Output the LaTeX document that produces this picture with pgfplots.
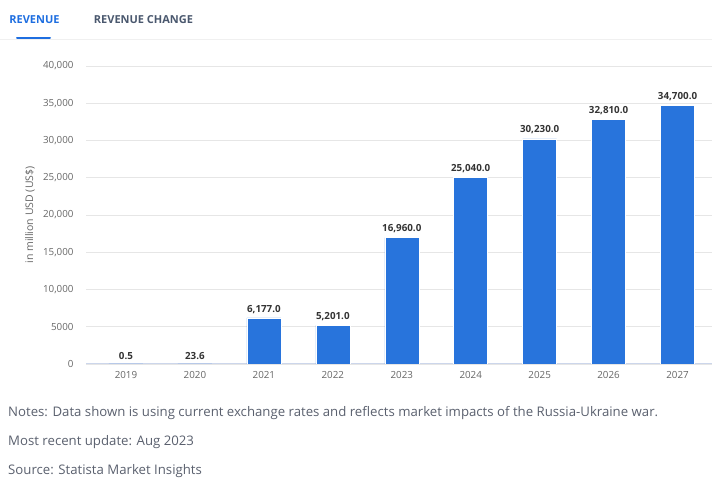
\documentclass[border=0pt]{standalone}
\usepackage{pgfplots}
\pgfplotsset{compat=1.18}
\usepackage{fontspec}
\setmainfont{Open Sans}
\definecolor{barblue}{RGB}{40,116,220}
\definecolor{tabblue}{RGB}{30,110,224}
\definecolor{tabgray}{RGB}{74,88,110}
\definecolor{txtgray}{RGB}{90,96,110}
\definecolor{tickgray}{RGB}{102,102,102}
\definecolor{gridgray}{RGB}{230,230,230}
\definecolor{baseblue}{RGB}{204,214,235}
\definecolor{lbl}{RGB}{51,51,51}
\begin{document}
\begin{tikzpicture}
\path[use as bounding box] (0,0) rectangle (712bp,479bp);
% tabs
\node[font=\fontsize{11bp}{13bp}\selectfont\bfseries, text=tabblue] at (34.5bp,459bp) {REVENUE};
\node[font=\fontsize{11bp}{13bp}\selectfont\bfseries, text=tabgray] at (143.5bp,459bp) {REVENUE CHANGE};
\draw[color=black!6, line width=1bp] (0,439bp) -- (712bp,439bp);
\draw[color=tabblue, line width=2bp, line cap=round] (17bp,441bp) -- (50bp,441bp);
% y label
\node[rotate=90, font=\fontsize{10.5bp}{12bp}\selectfont, text=tickgray] at (30bp,264bp) {in million USD (US\$)};
% notes
\node[anchor=west, inner sep=0, font=\fontsize{13.2bp}{15bp}\selectfont, text=txtgray] at (8bp,66bp) {Notes: Data shown is using current exchange rates and reflects market impacts of the Russia-Ukraine war.};
\node[anchor=west, inner sep=0, font=\fontsize{13.2bp}{15bp}\selectfont, text=txtgray] at (8bp,37bp) {Most recent update: Aug 2023};
\node[anchor=west, inner sep=0, font=\fontsize{13.2bp}{15bp}\selectfont, text=txtgray] at (8bp,8bp) {Source: Statista Market Insights};
\begin{axis}[
  at={(86bp,115bp)}, anchor=south west,
  scale only axis, width=626bp, height=298bp,
  xmin=-0.58, xmax=8.5, ymin=0, ymax=40000,
  axis x line*=bottom, axis y line*=left,
  x axis line style={draw=baseblue, line width=1bp, -},
  y axis line style={draw=none},
  ymajorgrids, grid style={draw=gridgray, line width=0.8bp},
  major tick length=0,
  scaled y ticks=false,
  xtick={0,...,8},
  xticklabels={2019,2020,2021,2022,2023,2024,2025,2026,2027},
  ytick={0,5000,10000,15000,20000,25000,30000,35000,40000},
  yticklabels={0,5000,{10,000},{15,000},{20,000},{25,000},{30,000},{35,000},{40,000}},
  xticklabel style={font=\fontsize{9.8bp}{11bp}\selectfont, text=tickgray, yshift=-4bp},
  yticklabel style={font=\fontsize{9.8bp}{11bp}\selectfont, text=tickgray, anchor=east, xshift=-9bp},
  /pgf/number format/assume math mode=true,
  ybar, bar width=34bp,
  nodes near coords={\pgfmathprintnumber[fixed, fixed zerofill, precision=1, 1000 sep={,}, assume math mode=true]{\pgfplotspointmeta}},
  nodes near coords style={font=\fontsize{9.8bp}{11bp}\selectfont\bfseries, text=lbl, anchor=south, yshift=1bp},
  point meta=explicit,
]
\addplot[fill=barblue, draw=white, line width=0.5bp] coordinates {
(0,0.5) [0.5] (1,23.6) [23.6] (2,6177) [6177] (3,5201) [5201] (4,16960) [16960]
(5,25040) [25040] (6,30230) [30230] (7,32810) [32810] (8,34700) [34700]};
\end{axis}
\end{tikzpicture}
\end{document}
